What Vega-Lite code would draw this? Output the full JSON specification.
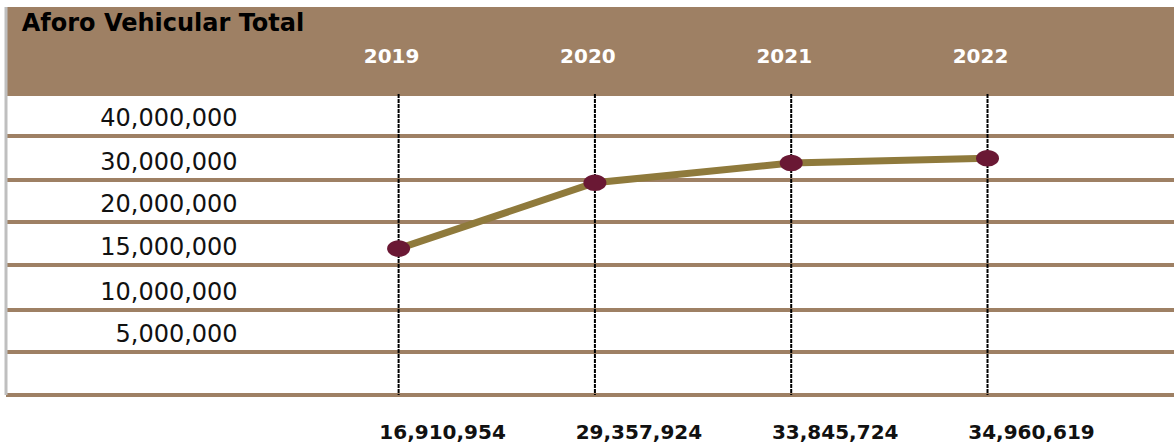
{
  "$schema": "https://vega.github.io/schema/vega-lite/v6.json",
  "width": 1174,
  "height": 448,
  "padding": 0,
  "autosize": {"type": "none"},
  "background": "white",
  "config": {"view": {"stroke": null}, "font": "DejaVu Sans"},
  "datasets": {
    "main": [
      {"year": 2019, "value": 16910954, "label": "16,910,954"},
      {"year": 2020, "value": 29357924, "label": "29,357,924"},
      {"year": 2021, "value": 33845724, "label": "33,845,724"},
      {"year": 2022, "value": 34960619, "label": "34,960,619"}
    ],
    "grid": [
      {"v": 0}, {"v": 5000000}, {"v": 10000000}, {"v": 15000000},
      {"v": 20000000}, {"v": 30000000}, {"v": 40000000}, {"v": 50000000}
    ],
    "ticks": [
      {"v": 5000000}, {"v": 10000000}, {"v": 15000000},
      {"v": 20000000}, {"v": 30000000}, {"v": 40000000}
    ]
  },
  "layer": [
    {
      "data": {"values": [{"top": 60000000, "bottom": 50000000}]},
      "mark": {"type": "rect", "color": "#9E8064"},
      "encoding": {
        "x": {"datum": 2017, "type": "quantitative", "scale": {"domain": [2017, 2022.95], "range": [6, 1174], "zero": false, "nice": false}, "axis": null},
        "x2": {"datum": 2023},
        "y": {"field": "top", "type": "quantitative", "scale": {"domain": [0, 5000000, 10000000, 15000000, 20000000, 30000000, 40000000, 50000000, 60000000], "range": [395, 352, 310, 265, 222, 180, 136, 94, 7], "zero": false, "nice": false}, "axis": null},
        "y2": {"field": "bottom"}
      }
    },
    {
      "data": {"name": "grid"},
      "mark": {"type": "rule", "color": "#9E8064", "strokeWidth": 4},
      "encoding": {
        "x": {"datum": 2017, "type": "quantitative"},
        "x2": {"datum": 2023},
        "y": {"field": "v", "type": "quantitative"}
      }
    },
    {
      "data": {"values": [{"a": 60000000, "b": 0}]},
      "mark": {"type": "rule", "color": "#BFBFBF", "strokeWidth": 3},
      "encoding": {
        "x": {"datum": 2017, "type": "quantitative"},
        "y": {"field": "a", "type": "quantitative"},
        "y2": {"field": "b"}
      }
    },
    {
      "data": {"name": "main"},
      "mark": {"type": "rule", "color": "black", "strokeWidth": 2, "strokeDash": [4, 1]},
      "encoding": {
        "x": {"field": "year", "type": "quantitative"},
        "y": {"datum": 50000000, "type": "quantitative"},
        "y2": {"datum": 0}
      }
    },
    {
      "data": {"name": "ticks"},
      "mark": {"type": "text", "align": "right", "baseline": "middle", "dy": -17, "fontSize": 24, "color": "#111111"},
      "encoding": {
        "x": {"datum": 2018.18, "type": "quantitative"},
        "y": {"field": "v", "type": "quantitative"},
        "text": {"field": "v", "type": "quantitative", "format": ","}
      }
    },
    {
      "data": {"values": [{"t": "Aforo Vehicular Total"}]},
      "mark": {"type": "text", "align": "left", "baseline": "middle", "fontSize": 24, "fontWeight": "bold", "color": "black"},
      "encoding": {
        "x": {"datum": 2017.08, "type": "quantitative"},
        "y": {"datum": 58000000, "type": "quantitative"},
        "text": {"field": "t"}
      }
    },
    {
      "data": {"name": "main"},
      "mark": {"type": "text", "align": "center", "baseline": "middle", "dx": -7, "fontSize": 20, "fontWeight": "bold", "color": "white"},
      "encoding": {
        "x": {"field": "year", "type": "quantitative"},
        "y": {"datum": 54200000, "type": "quantitative"},
        "text": {"field": "year", "type": "nominal"}
      }
    },
    {
      "data": {"name": "main"},
      "mark": {"type": "line", "color": "#8F7A3C", "strokeWidth": 7},
      "encoding": {
        "x": {"field": "year", "type": "quantitative"},
        "y": {"field": "value", "type": "quantitative"}
      }
    },
    {
      "data": {"name": "main"},
      "mark": {"type": "point", "filled": true, "opacity": 1, "color": "#6A1834", "size": 529, "shape": "M-1,0a1,0.72 0 1,0 2,0a1,0.72 0 1,0 -2,0Z"},
      "encoding": {
        "x": {"field": "year", "type": "quantitative"},
        "y": {"field": "value", "type": "quantitative"}
      }
    },
    {
      "data": {"name": "main"},
      "mark": {"type": "text", "align": "center", "baseline": "middle", "dx": 44, "fontSize": 20, "fontWeight": "bold", "color": "#111111"},
      "encoding": {
        "x": {"field": "year", "type": "quantitative"},
        "y": {"datum": -4400000, "type": "quantitative"},
        "text": {"field": "label"}
      }
    }
  ]
}
